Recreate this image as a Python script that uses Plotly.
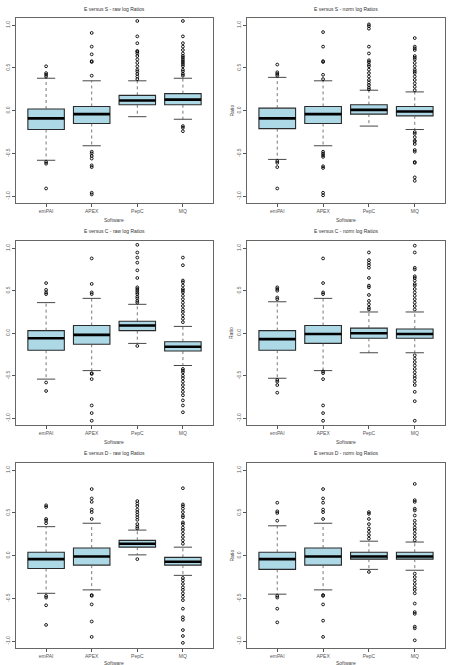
import plotly.graph_objects as go

categories = ["emPAI", "APEX", "PepC", "MQ"]
ytick_vals = [-1.0, -0.5, 0.0, 0.5, 1.0]
ytick_text = ["-1.0", "-0.5", "0.0", "0.5", "1.0"]
titles = ["E versus S - raw log Ratios", "E versus S - norm log Ratios",
          "E versus C - raw log Ratios", "E versus C - norm log Ratios",
          "E versus D - raw log Ratios", "E versus D - norm log Ratios"]

# ---- E versus S raw
s_raw_q1 = [-0.22, -0.15, 0.07, 0.07]
s_raw_med = [-0.09, -0.04, 0.12, 0.13]
s_raw_q3 = [0.02, 0.05, 0.18, 0.20]
s_raw_lo = [-0.58, -0.41, -0.07, -0.10]
s_raw_hi = [0.38, 0.35, 0.35, 0.38]
s_raw_out = [
    [0.52, 0.44, 0.42, 0.40, -0.60, -0.62, -0.91],
    [0.91, 0.75, 0.66, 0.58, 0.57, 0.41, -0.48, -0.50, -0.53, -0.56, -0.64, -0.66, -0.96, -0.98],
    [1.05, 0.87, 0.79, 0.70, 0.69, 0.67, 0.64, 0.60, 0.56, 0.52, 0.48, 0.46, 0.43, 0.40, 0.37],
    [1.05, 0.87, 0.79, 0.75, 0.71, 0.67, 0.64, 0.62, 0.60, 0.58, 0.56, 0.54, 0.52, 0.48, 0.46, 0.43, 0.41,
     -0.18, -0.20, -0.24],
]
# ---- E versus S norm
s_norm_q1 = [-0.21, -0.15, -0.04, -0.06]
s_norm_med = [-0.09, -0.04, 0.01, -0.01]
s_norm_q3 = [0.03, 0.05, 0.07, 0.05]
s_norm_lo = [-0.57, -0.41, -0.18, -0.22]
s_norm_hi = [0.39, 0.35, 0.24, 0.22]
s_norm_out = [
    [0.54, 0.45, 0.43, 0.41, -0.59, -0.61, -0.66, -0.91],
    [0.92, 0.75, 0.58, 0.57, 0.42, 0.37, -0.48, -0.50, -0.52, -0.54, -0.65, -0.67, -0.96, -0.99],
    [1.01, 0.99, 0.96, 0.75, 0.67, 0.59, 0.57, 0.54, 0.52, 0.48, 0.44, 0.40, 0.36, 0.33, 0.30, 0.27, 0.25],
    [0.85, 0.75, 0.73, 0.71, 0.64, 0.62, 0.60, 0.56, 0.52, 0.48, 0.46, 0.44, 0.40, 0.36, 0.32, 0.28, 0.24,
     -0.25, -0.27, -0.31, -0.35, -0.36, -0.39, -0.46, -0.48, -0.60, -0.61, -0.78, -0.82],
]
# ---- E versus C raw
c_raw_q1 = [-0.20, -0.13, 0.03, -0.21]
c_raw_med = [-0.06, -0.02, 0.09, -0.16]
c_raw_q3 = [0.03, 0.09, 0.14, -0.10]
c_raw_lo = [-0.54, -0.44, -0.12, -0.38]
c_raw_hi = [0.36, 0.41, 0.34, 0.08]
c_raw_out = [
    [0.59, 0.51, 0.48, 0.46, -0.58, -0.68],
    [0.88, 0.58, 0.48, 0.46, -0.47, -0.48, -0.54, -0.85, -0.94, -1.03],
    [1.04, 0.95, 0.89, 0.83, 0.74, 0.65, 0.54, 0.52, 0.50, 0.48, 0.46, 0.43, 0.41, 0.38, 0.36, -0.15],
    [0.89, 0.80, 0.62, 0.60, 0.56, 0.52, 0.50, 0.48, 0.44, 0.40, 0.36, 0.32, 0.28, 0.25, 0.21, 0.17, 0.13,
     -0.42, -0.44, -0.46, -0.50, -0.53, -0.57, -0.61, -0.65, -0.69, -0.73, -0.79, -0.85, -0.93],
]
# ---- E versus C norm
c_norm_q1 = [-0.20, -0.12, -0.06, -0.06]
c_norm_med = [-0.07, -0.01, 0.00, -0.01]
c_norm_q3 = [0.03, 0.09, 0.06, 0.05]
c_norm_lo = [-0.53, -0.44, -0.23, -0.23]
c_norm_hi = [0.37, 0.41, 0.25, 0.25]
c_norm_out = [
    [0.54, 0.52, 0.50, 0.42, 0.40, -0.55, -0.57, -0.61, -0.70],
    [0.88, 0.59, 0.48, 0.46, -0.45, -0.47, -0.54, -0.85, -0.94, -1.03],
    [0.95, 0.86, 0.83, 0.80, 0.77, 0.65, 0.56, 0.54, 0.45, 0.38, 0.34, 0.30, 0.28],
    [1.03, 0.95, 0.77, 0.75, 0.67, 0.65, 0.62, 0.58, 0.56, 0.52, 0.48, 0.44, 0.40, 0.36, 0.32, 0.28,
     -0.26, -0.30, -0.34, -0.38, -0.42, -0.46, -0.50, -0.53, -0.57, -0.61, -0.69, -0.80, -1.03],
]
# ---- E versus D raw
d_raw_q1 = [-0.15, -0.11, 0.10, -0.11]
d_raw_med = [-0.04, -0.01, 0.14, -0.07]
d_raw_q3 = [0.04, 0.09, 0.18, -0.02]
d_raw_lo = [-0.44, -0.40, 0.01, -0.23]
d_raw_hi = [0.34, 0.38, 0.30, 0.10]
d_raw_out = [
    [0.59, 0.57, 0.43, 0.41, 0.38, -0.47, -0.49, -0.58, -0.81],
    [0.78, 0.67, 0.63, 0.54, 0.51, 0.43, -0.46, -0.47, -0.57, -0.77, -0.95],
    [0.64, 0.61, 0.58, 0.54, 0.51, 0.48, 0.45, 0.42, 0.37, 0.34, 0.32, -0.04],
    [0.79, 0.60, 0.58, 0.55, 0.51, 0.47, 0.45, 0.39, 0.37, 0.33, 0.30, 0.26, 0.22, 0.18, 0.14,
     -0.26, -0.29, -0.33, -0.37, -0.40, -0.44, -0.48, -0.52, -0.62, -0.72, -0.75, -0.87, -0.94, -1.02],
]
# ---- E versus D norm
d_norm_q1 = [-0.16, -0.11, -0.04, -0.04]
d_norm_med = [-0.04, -0.01, -0.01, -0.01]
d_norm_q3 = [0.04, 0.09, 0.04, 0.04]
d_norm_lo = [-0.45, -0.40, -0.16, -0.17]
d_norm_hi = [0.35, 0.38, 0.17, 0.16]
d_norm_out = [
    [0.62, 0.52, 0.50, 0.41, -0.47, -0.49, -0.62, -0.78],
    [0.78, 0.67, 0.62, 0.54, 0.51, 0.43, -0.46, -0.47, -0.57, -0.76, -0.95],
    [0.51, 0.49, 0.43, 0.37, 0.32, 0.28, 0.24, 0.20, -0.19],
    [0.84, 0.65, 0.63, 0.55, 0.53, 0.47, 0.41, 0.37, 0.33, 0.30, 0.26, 0.22, 0.18,
     -0.21, -0.25, -0.29, -0.33, -0.37, -0.40, -0.44, -0.56, -0.66, -0.68, -0.83, -0.85, -0.99],
]

panels = [
    (s_raw_q1, s_raw_med, s_raw_q3, s_raw_lo, s_raw_hi, s_raw_out),
    (s_norm_q1, s_norm_med, s_norm_q3, s_norm_lo, s_norm_hi, s_norm_out),
    (c_raw_q1, c_raw_med, c_raw_q3, c_raw_lo, c_raw_hi, c_raw_out),
    (c_norm_q1, c_norm_med, c_norm_q3, c_norm_lo, c_norm_hi, c_norm_out),
    (d_raw_q1, d_raw_med, d_raw_q3, d_raw_lo, d_raw_hi, d_raw_out),
    (d_norm_q1, d_norm_med, d_norm_q3, d_norm_lo, d_norm_hi, d_norm_out),
]

W, H = 450, 665
BOX_HALF = 0.4
CAP_HALF = 0.2
col_x = [(16, 213), (247, 445)]
row_y = [(18, 203), (241, 425), (463, 648)]
title_y = [9, 231, 453]
xlab_y = [219.5, 441.5, 663]

def py(p):
    return 1 - p / H

fig = go.Figure()
layout = dict(width=W, height=H, margin=dict(l=0, r=0, t=0, b=0),
              paper_bgcolor="white", plot_bgcolor="white", showlegend=False,
              font=dict(family="Liberation Sans, Arial, sans-serif", size=5, color="#444"))
annotations = []
pos = [1, 2, 3, 4]
for k, (q1, med, q3, lo, hi, outs) in enumerate(panels):
    r, c = divmod(k, 2)
    n = k + 1
    xa = "x" if n == 1 else f"x{n}"
    ya = "y" if n == 1 else f"y{n}"
    # whiskers (dashed)
    wx, wy = [], []
    for i, p in enumerate(pos):
        wx += [p, p, None, p, p, None]
        wy += [q3[i], hi[i], None, q1[i], lo[i], None]
    fig.add_trace(go.Scatter(x=wx, y=wy, mode="lines", xaxis=xa, yaxis=ya,
                             line=dict(color="#555", width=0.8, dash="3px,3px"), hoverinfo="skip"))
    # caps
    cx, cy = [], []
    for i, p in enumerate(pos):
        cx += [p - CAP_HALF, p + CAP_HALF, None, p - CAP_HALF, p + CAP_HALF, None]
        cy += [hi[i], hi[i], None, lo[i], lo[i], None]
    fig.add_trace(go.Scatter(x=cx, y=cy, mode="lines", xaxis=xa, yaxis=ya,
                             line=dict(color="#333", width=0.9), hoverinfo="skip"))
    # boxes
    fig.add_trace(go.Box(x=pos, q1=q1, median=med, q3=q3, lowerfence=q1, upperfence=q3,
                         width=2 * BOX_HALF, fillcolor="#add8e6", xaxis=xa, yaxis=ya,
                         line=dict(color="#2a2a2a", width=1.1), hoverinfo="skip", boxpoints=False))
    # medians
    mx, my = [], []
    for i, p in enumerate(pos):
        mx += [p - BOX_HALF, p + BOX_HALF, None]
        my += [med[i], med[i], None]
    fig.add_trace(go.Scatter(x=mx, y=my, mode="lines", xaxis=xa, yaxis=ya,
                             line=dict(color="black", width=2.6), hoverinfo="skip"))
    # outliers
    ox, oy = [], []
    for i, p in enumerate(pos):
        ox += [p] * len(outs[i])
        oy += outs[i]
    fig.add_trace(go.Scatter(x=ox, y=oy, mode="markers", xaxis=xa, yaxis=ya,
                             marker=dict(symbol="circle-open", size=2.8, color="black",
                                         line=dict(width=0.9, color="black")),
                             hoverinfo="skip"))
    x0, x1 = col_x[c]
    y0, y1 = row_y[r]
    axkey_x = "xaxis" if n == 1 else f"xaxis{n}"
    axkey_y = "yaxis" if n == 1 else f"yaxis{n}"
    layout[axkey_x] = dict(domain=[x0 / W, x1 / W], anchor=ya, range=[0.34, 4.66],
                           tickvals=pos, ticktext=categories, ticks="outside", ticklen=3,
                           tickwidth=0.8, tickcolor="#555", showline=True, mirror=True,
                           linecolor="#666", linewidth=1, showgrid=False, zeroline=False,
                           tickfont=dict(size=5, color="#555"), fixedrange=True)
    layout[axkey_y] = dict(domain=[py(y1), py(y0)], anchor=xa, range=[-1.08, 1.085],
                           tickvals=ytick_vals, ticktext=ytick_text, tickangle=-90,
                           ticks="outside", ticklen=3, tickwidth=0.8, tickcolor="#555",
                           showline=True, mirror=True, linecolor="#666", linewidth=1,
                           showgrid=False, zeroline=False,
                           tickfont=dict(size=5, color="#555"), fixedrange=True)
    cxm = (x0 + x1) / 2 / W
    annotations.append(dict(text=titles[k], x=cxm, y=py(title_y[r]), xref="paper", yref="paper",
                            showarrow=False, font=dict(size=5, color="#333"),
                            xanchor="center", yanchor="middle"))
    annotations.append(dict(text="Software", x=cxm, y=py(xlab_y[r]), xref="paper", yref="paper",
                            showarrow=False, font=dict(size=5, color="#444"),
                            xanchor="center", yanchor="middle"))
    if c == 1:
        annotations.append(dict(text="Ratio", x=231 / W, y=py((y0 + y1) / 2), xref="paper",
                                yref="paper", showarrow=False, textangle=-90,
                                font=dict(size=5, color="#444"),
                                xanchor="center", yanchor="middle"))

layout["annotations"] = annotations
fig.update_layout(**layout)
fig.write_html("out.html")
